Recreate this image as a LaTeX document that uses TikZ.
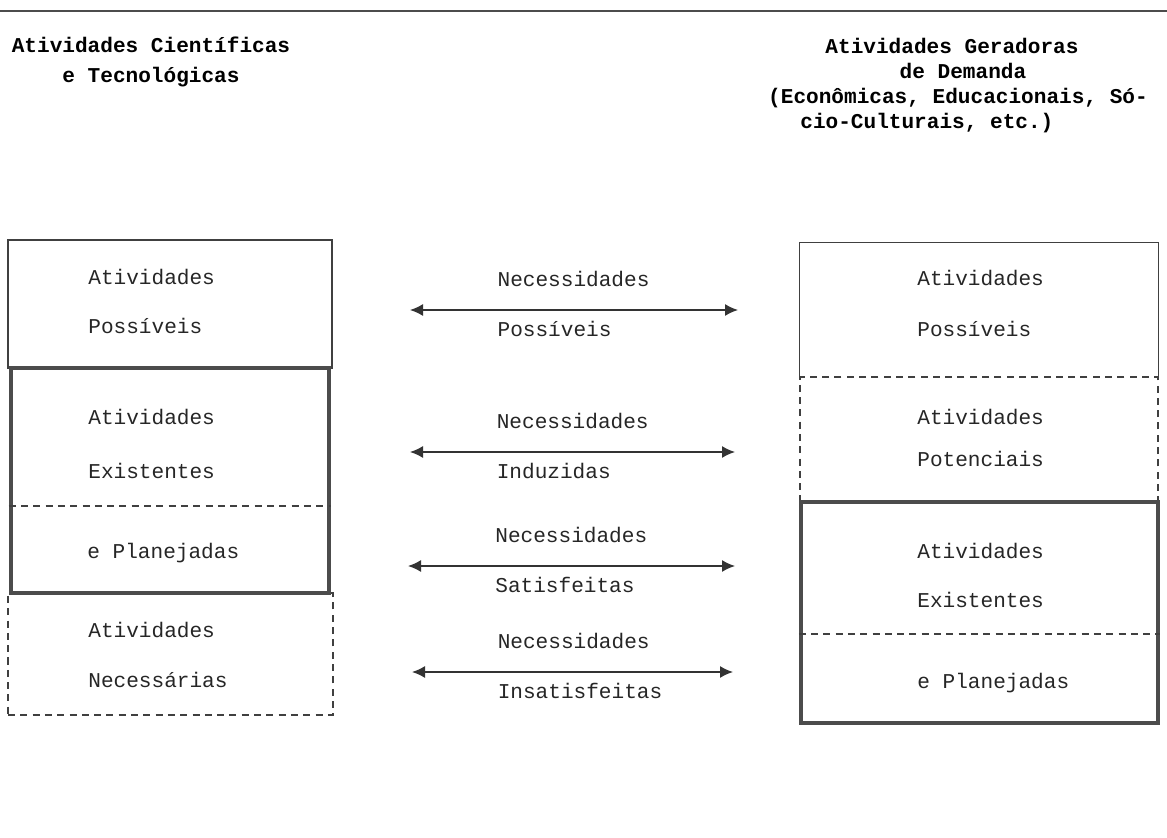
\documentclass[tikz,border=0pt]{standalone}
\usepackage{fontspec}
\setmainfont{Liberation Mono}
\usepackage{tikz}
\usetikzlibrary{shapes, arrows.meta}
\tikzset{
  thinbox/.style={draw=black!75, line width=0.8pt, rectangle, inner sep=0pt},
  thickbox/.style={draw=black!70, line width=2.6pt, rectangle, inner sep=0pt},
  dashbox/.style={draw=black!75, line width=0.8pt, dash pattern=on 4pt off 3pt, rectangle, inner sep=0pt},
  divider/.style={draw=black!75, line width=0.8pt, dash pattern=on 4pt off 3pt},
  rule/.style={draw=black!70, line width=1.2pt},
  boxtext/.style={anchor=west, text height=8pt, text depth=2pt, inner sep=0pt, text=black!85},
  headtext/.style={font=\fontsize{12}{14}\selectfont\bfseries, text height=8pt, text depth=2pt, inner sep=0pt},
  conn/.style={<->, draw=black!80, line width=0.8pt},
  uplabel/.style={boxtext, pos=0.265, yshift=0.58cm},
  downlabel/.style={boxtext, pos=0.265, yshift=-0.42cm}
}

\begin{document}
\begin{tikzpicture}[x=0.02cm, y=-0.02cm, >={Latex[length=2.6mm, width=2.4mm]}, font=\fontsize{12}{14}\selectfont]
    % area
    \useasboundingbox (0,0) rectangle (1167,838);

    % top rule
    \coordinate (topl) at (0,11);
    \coordinate (topr) at (1167,11);
    \draw[rule] (topl) -- (topr);

    % titles
    \node[headtext] (ltitle1) at (151,47) {Atividades Científicas};
    \node[headtext] (ltitle2) at (151,77) {e Tecnológicas};
    \node[headtext] (rtitle1) at (952,48) {Atividades Geradoras};
    \node[headtext] (rtitle2) at (963,73) {de Demanda};
    \node[headtext] (rtitle3) at (958,98) {(Econômicas, Educacionais, Só-};
    \node[headtext, anchor=west] (rtitle4) at (800,123) {cio-Culturais, etc.)};

    % left column
    \node[thinbox, minimum width=6.48cm, minimum height=2.56cm] (lposs) at (170,304) {};
    \node[dashbox, minimum width=6.5cm, minimum height=2.44cm] (lnec) at (170.5,654) {};
    \node[thickbox, minimum width=6.36cm, minimum height=4.5cm] (lexist) at (170,480.5) {};
    \coordinate (ldiv) at (0,506);
    \draw[divider] (lexist.west |- ldiv) -- (lexist.east |- ldiv);

    \node[boxtext] (lposs1) at (88,279) {Atividades};
    \node[boxtext] (lposs2) at (88,328) {Possíveis};
    \node[boxtext] (lexist1) at (88,419) {Atividades};
    \node[boxtext] (lexist2) at (88,473) {Existentes};
    \node[boxtext] (lexist3) at (87,553) {e Planejadas};
    \node[boxtext] (lnec1) at (88,632) {Atividades};
    \node[boxtext] (lnec2) at (88,682) {Necessárias};

    % right column
    \node[rectangle, minimum width=7.16cm, minimum height=2.68cm] (rposs) at (979,310) {};
    \draw[thinbox] (rposs.south west) -- (rposs.north west) -- (rposs.north east) -- (rposs.south east);
    \node[dashbox, minimum width=7.16cm, minimum height=2.5cm] (rpot) at (979,439.5) {};
    \node[thickbox, minimum width=7.14cm, minimum height=4.42cm] (rexist) at (979.5,612.5) {};
    \coordinate (rdiv) at (0,634);
    \draw[divider] (rexist.west |- rdiv) -- (rexist.east |- rdiv);

    \node[boxtext] (rposs1) at (917,280) {Atividades};
    \node[boxtext] (rposs2) at (917,331) {Possíveis};
    \node[boxtext] (rpot1) at (917,419) {Atividades};
    \node[boxtext] (rpot2) at (917,461) {Potenciais};
    \node[boxtext] (rexist1) at (917,553) {Atividades};
    \node[boxtext] (rexist2) at (917,602) {Existentes};
    \node[boxtext] (rexist3) at (917,683) {e Planejadas};

    % arrows
    \coordinate (a1l) at (410,310);
    \coordinate (a1r) at (738,310);
    \coordinate (a2l) at (410,452);
    \coordinate (a2r) at (735,452);
    \coordinate (a3l) at (408,566);
    \coordinate (a3r) at (735,566);
    \coordinate (a4l) at (412,672);
    \coordinate (a4r) at (733,672);
    \draw[conn] (a1l) -- node[uplabel] (n1a) {Necessidades} node[downlabel] (n1b) {Possíveis} (a1r);
    \draw[conn] (a2l) -- node[uplabel] (n2a) {Necessidades} node[downlabel] (n2b) {Induzidas} (a2r);
    \draw[conn] (a3l) -- node[uplabel] (n3a) {Necessidades} node[downlabel] (n3b) {Satisfeitas} (a3r);
    \draw[conn] (a4l) -- node[uplabel] (n4a) {Necessidades} node[downlabel] (n4b) {Insatisfeitas} (a4r);
\end{tikzpicture}
\end{document}
